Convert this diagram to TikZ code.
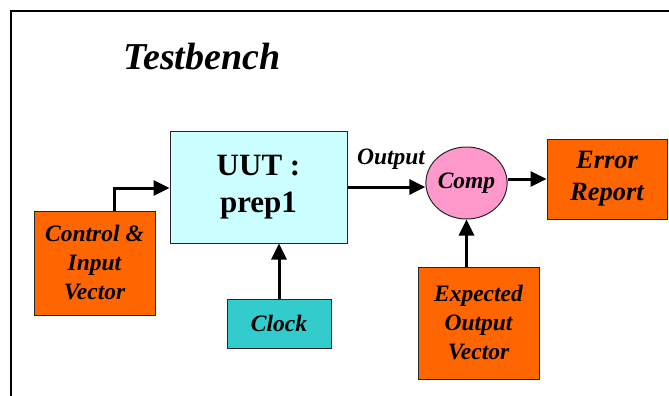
\documentclass[tikz,border=0pt]{standalone}
\usepackage{fontspec}
\setmainfont{Liberation Serif}
\usetikzlibrary{arrows.meta,shapes.geometric}
\definecolor{orng}{HTML}{FF6600}
\definecolor{lcyan}{HTML}{CCFFFF}
\definecolor{teal2}{HTML}{33CCCC}
\definecolor{pink2}{HTML}{FF99CC}
\tikzset{
  lbl/.style={font=\fontsize{23.5}{29}\selectfont\bfseries\itshape, align=center},
  blk/.style={draw=black!85, line width=1pt, inner sep=0pt, lbl},
  arr/.style={line width=3pt, -{Triangle[length=16pt,width=15pt]}},
}
\begin{document}
\begin{tikzpicture}[x=1pt,y=-1pt]
\useasboundingbox (0,0) rectangle (669,396);
\clip (0,0) rectangle (669,396);
\fill[white] (0,0) rectangle (669,396);
\draw[line width=1.5pt] (690,11) -- (11,11) -- (11,420);
\node[lbl, font=\fontsize{38}{40}\selectfont\bfseries\itshape] (title) at (202,57) {Testbench};
\node[blk, fill=orng, minimum width=121pt, minimum height=104pt] (ctrl) at (94.5,263) {Control \&\\Input\\Vector};
\node[blk, fill=lcyan, minimum width=177pt, minimum height=112pt, font=\fontsize{31}{37}\selectfont\bfseries] (uut) at (258.5,187) {UUT :\\prep1};
\node[blk, fill=teal2, minimum width=104pt, minimum height=49pt] (clock) at (279,323.5) {Clock};
\node[blk, ellipse, fill=pink2, minimum width=79pt, minimum height=72pt] (comp) at (466.5,183) {Comp};
\node[blk, fill=orng, minimum width=120pt, minimum height=80pt, font=\fontsize{26.5}{32}\selectfont\bfseries\itshape] (err) at (607,179) {Error\\Report};
\node[blk, fill=orng, minimum width=121pt, minimum height=112pt] (exp) at (478.5,323) {Expected\\Output\\Vector};
\node[lbl] (outl) at (391,159) {Output};
\coordinate (c1) at (114,188);
\draw[arr] (ctrl.north -| c1) |- (uut.west |- c1);
\draw[arr] (clock.north) -- (clock.north |- uut.south);
\draw[arr] (uut.east) -- (uut.east -| comp.west);
\draw[arr] (err.west -| comp.east) -- (err.west);
\draw[arr] (exp.north -| comp.south) -- (comp.south);
\end{tikzpicture}
\end{document}
